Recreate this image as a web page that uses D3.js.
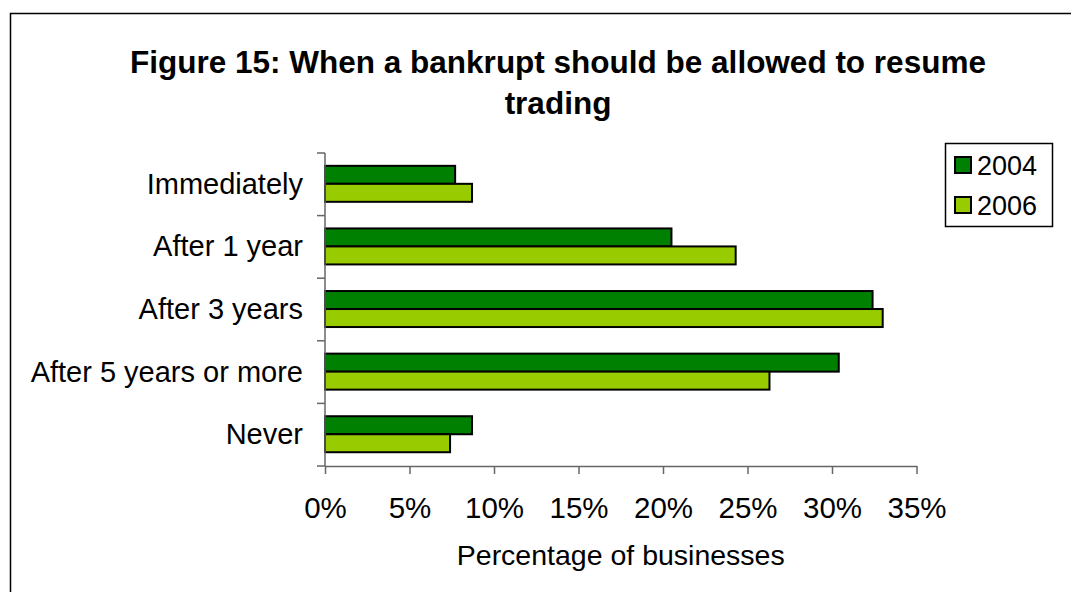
<!DOCTYPE html>
<html>
<head>
<meta charset="utf-8">
<script src="https://cdn.jsdelivr.net/npm/d3@7"></script>
<style>
  html, body { margin: 0; padding: 0; background: #fff; }
  svg { display: block; font-family: Arial, "Liberation Sans", sans-serif; }
</style>
</head>
<body>
<svg id="chart" width="1071" height="592"></svg>
<script>
// Survey answers: when a bankrupt should be allowed to resume trading
const categories = ["Immediately", "After 1 year", "After 3 years", "After 5 years or more", "Never"];
const seriesNames = ["2004", "2006"];
const values2004 = [7.7, 20.5, 32.4, 30.4, 8.7];
const values2006 = [8.7, 24.3, 33.0, 26.3, 7.4];
const xTicks = [0, 5, 10, 15, 20, 25, 30, 35];
const colors = ["#008000", "#99CC00"];

const svg = d3.select("#chart");

// Outer frame (extends past the right and bottom edges)
svg.append("rect")
  .attr("x", 10.5).attr("y", 13.5)
  .attr("width", 1100).attr("height", 700)
  .attr("fill", "#fff").attr("stroke", "#000").attr("stroke-width", 1.5);

// Title
const title = svg.append("text")
  .attr("text-anchor", "middle")
  .attr("font-weight", "bold")
  .attr("font-size", 31.5)
  .attr("fill", "#000");
title.append("tspan").attr("x", 558).attr("y", 73)
  .text("Figure 15: When a bankrupt should be allowed to resume");
title.append("tspan").attr("x", 558).attr("y", 114).text("trading");

const plot = { left: 325, right: 916.5, top: 153, bottom: 466 };

const x = d3.scaleLinear().domain([0, 35]).range([plot.left, plot.right]);
const y0 = d3.scaleBand().domain(categories).range([plot.top, plot.bottom]).padding(0);
const y1 = d3.scaleBand().domain(seriesNames)
  .range([y0.bandwidth() * 0.205, y0.bandwidth() * 0.78]);

const rows = categories.map((c, i) => ({
  category: c,
  values: [values2004[i], values2006[i]]
}));

// Bars
const groups = svg.append("g").selectAll("g")
  .data(rows).join("g")
  .attr("transform", d => `translate(0,${y0(d.category)})`);

groups.selectAll("rect")
  .data(d => d.values.map((v, j) => ({ series: seriesNames[j], value: v, j })))
  .join("rect")
  .attr("x", x(0))
  .attr("y", d => y1(d.series))
  .attr("width", d => x(d.value) - x(0))
  .attr("height", y1.bandwidth())
  .attr("fill", d => colors[d.j])
  .attr("stroke", "#000")
  .attr("stroke-width", 2);

// X axis
const xAxis = svg.append("g")
  .attr("transform", `translate(0,${plot.bottom})`)
  .call(d3.axisBottom(x).tickValues(xTicks).tickFormat(d => d + "%").tickSize(8).tickSizeOuter(0));
xAxis.select(".domain").attr("stroke", "#666").attr("stroke-width", 1.5);
xAxis.selectAll(".tick line").attr("stroke", "#666").attr("stroke-width", 1.5);
xAxis.selectAll(".tick text")
  .attr("font-size", 29.5).attr("font-family", "Arial, 'Liberation Sans', sans-serif")
  .attr("fill", "#000").attr("y", 0).attr("dy", 52);

// Y axis: ticks at band boundaries, labels at band centres
const yAxisG = svg.append("g");
yAxisG.append("line")
  .attr("x1", plot.left).attr("x2", plot.left)
  .attr("y1", plot.top).attr("y2", plot.bottom)
  .attr("stroke", "#666").attr("stroke-width", 1.5);
const boundaries = categories.map(c => y0(c)).concat([plot.bottom]);
yAxisG.selectAll("line.tick").data(boundaries).join("line")
  .attr("class", "tick")
  .attr("x1", plot.left - 8).attr("x2", plot.left)
  .attr("y1", d => d).attr("y2", d => d)
  .attr("stroke", "#666").attr("stroke-width", 1.5);
yAxisG.selectAll("text").data(categories).join("text")
  .attr("x", 303)
  .attr("y", d => y0(d) + y0.bandwidth() / 2 + 9.5)
  .attr("text-anchor", "end")
  .attr("font-size", 29)
  .attr("fill", "#000")
  .text(d => d);

// X axis title
svg.append("text")
  .attr("x", (plot.left + plot.right) / 2)
  .attr("y", 565)
  .attr("text-anchor", "middle")
  .attr("font-size", 28.5)
  .attr("fill", "#000")
  .text("Percentage of businesses");

// Legend
const legend = svg.append("g");
legend.append("rect")
  .attr("x", 945.5).attr("y", 143.5).attr("width", 107).attr("height", 83)
  .attr("fill", "#fff").attr("stroke", "#000").attr("stroke-width", 1.5);
const items = legend.selectAll("g.item").data(seriesNames).join("g")
  .attr("class", "item")
  .attr("transform", (d, i) => `translate(0,${i * 40})`);
items.append("rect")
  .attr("x", 955).attr("y", 157).attr("width", 16).attr("height", 16)
  .attr("fill", (d, i) => colors[i])
  .attr("stroke", "#000").attr("stroke-width", 2);
items.append("text")
  .attr("x", 977).attr("y", 175)
  .attr("font-size", 27)
  .attr("fill", "#000")
  .text(d => d);
</script>
</body>
</html>
